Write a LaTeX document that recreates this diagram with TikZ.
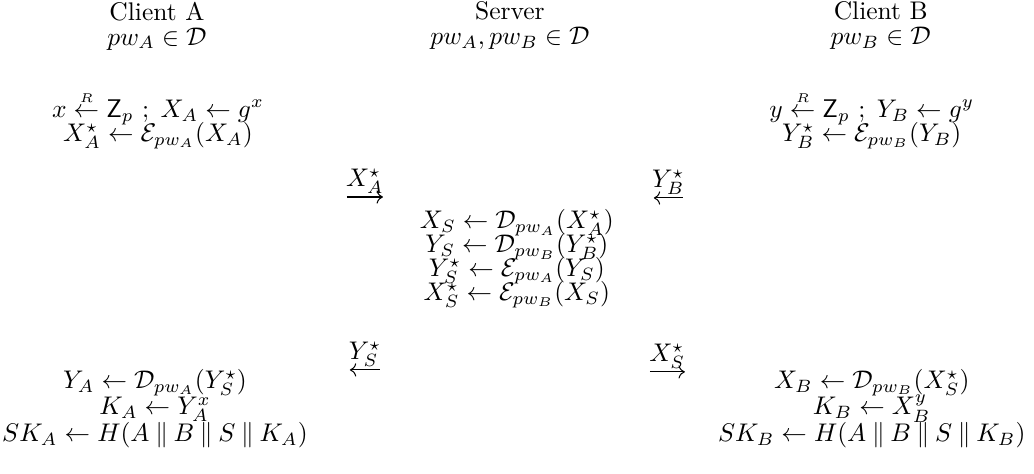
\documentclass[tikz,border=0pt]{standalone}
\usepackage{amsmath,amssymb}
\usepackage{tikz}
\usetikzlibrary{arrows.meta,positioning}
\newcommand{\pw}[1]{\ensuremath{pw_{#1}}}
\newcommand{\Zp}{\ensuremath{\mathsf{Z}_p}}
\newcommand{\rnd}{\ensuremath{\stackrel{\scriptscriptstyle R}{\leftarrow}}}
\newcommand{\cat}{\mathbin{\|}}
\newcommand{\linesp}[1]{\fontsize{10}{#1}\selectfont\lineskiplimit=-10pt\relax}

\begin{document}
\begin{tikzpicture}[
  party/.style={align=center,inner sep=0pt,font={\linesp{9.8pt}}},
  comp/.style={align=center,inner sep=0pt,font={\linesp{#1}}},
  msg/.style={-{Computer Modern Rightarrow},line width=0.4pt},
  lbl/.style={above,inner sep=1pt}
]
\useasboundingbox (0,0) rectangle (14.25,-6.52);
\node[party] (hA) at (2.163,-0.358) {Client A\\ $\pw{A} \in \mathcal{D}$};
\node[party] (hS) at (7.027,-0.358) {Server\\ $\pw{A}, \pw{B} \in \mathcal{D}$};
\node[party] (hB) at (12.138,-0.358) {Client B\\ $\pw{B} \in \mathcal{D}$};

\node[comp=9.5pt] (initA) at (2.177,-1.655) {$x \rnd \Zp\ ;\; X_A \leftarrow g^x$\\ $X_A^\star \leftarrow \mathcal{E}_{\pw{A}}(X_A)$};
\node[comp=9.5pt] (initB) at (12.014,-1.655) {$y \rnd \Zp\ ;\; Y_B \leftarrow g^y$\\ $Y_B^\star \leftarrow \mathcal{E}_{\pw{B}}(Y_B)$};

\node[comp=9.4pt] (srv) at (7.123,-3.565) {$X_S \leftarrow \mathcal{D}_{\pw{A}}(X_A^\star)$\\ $Y_S \leftarrow \mathcal{D}_{\pw{B}}(Y_B^\star)$\\ $Y_S^\star \leftarrow \mathcal{E}_{\pw{A}}(Y_S)$\\ $X_S^\star \leftarrow \mathcal{E}_{\pw{B}}(X_S)$};

\node[comp=10.4pt] (finA) at (2.136,-5.630) {$Y_A \leftarrow \mathcal{D}_{\pw{A}}(Y_S^\star)$\\ $K_A \leftarrow Y_A^x$\\ $SK_A \leftarrow H(A \cat B \cat S \cat K_A)$};
\node[comp=10.4pt] (finB) at (12.014,-5.630) {$X_B \leftarrow \mathcal{D}_{\pw{B}}(X_S^\star)$\\ $K_B \leftarrow X_B^y$\\ $SK_B \leftarrow H(A \cat B \cat S \cat K_B)$};

\coordinate (m1s) at (4.781,-2.715);
\coordinate (m1e) at (5.277,-2.715);
\coordinate (m2s) at (9.410,-2.728);
\coordinate (m2e) at (9.011,-2.728);
\coordinate (m3s) at (5.236,-5.098);
\coordinate (m3e) at (4.822,-5.098);
\coordinate (m4s) at (8.955,-5.125);
\coordinate (m4e) at (9.438,-5.125);
\draw[msg] (m1s) -- node[lbl] {$X_A^\star$} (m1e);
\draw[msg] (m2s) -- node[lbl] {$Y_B^\star$} (m2e);
\draw[msg] (m3s) -- node[lbl] {$Y_S^\star$} (m3e);
\draw[msg] (m4s) -- node[lbl] {$X_S^\star$} (m4e);
\end{tikzpicture}
\end{document}
